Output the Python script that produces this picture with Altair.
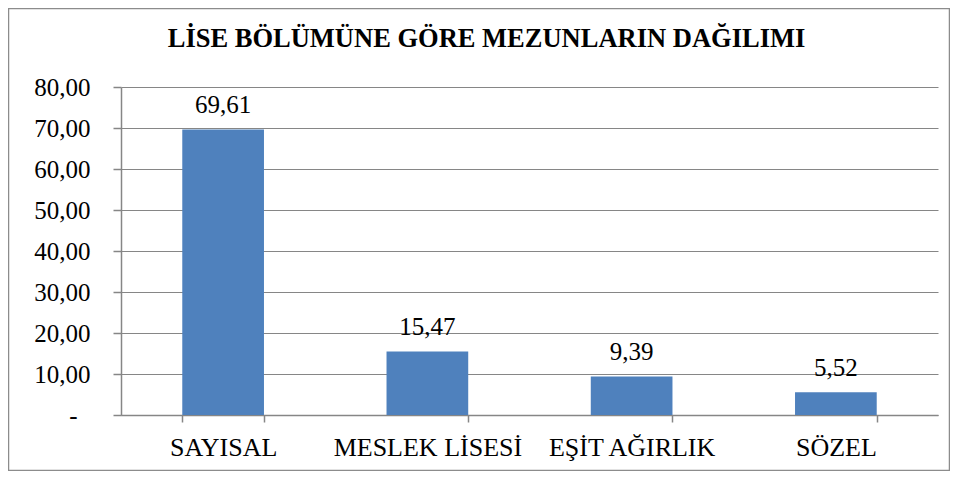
import altair as alt
import pandas as pd

categories = ["SAYISAL", "MESLEK LİSESİ", "EŞİT AĞIRLIK", "SÖZEL"]
values = [69.61, 15.47, 9.39, 5.52]
y_ticks = [0, 10, 20, 30, 40, 50, 60, 70, 80]
title_text = "LİSE BÖLÜMÜNE GÖRE MEZUNLARIN DAĞILIMI"

df = pd.DataFrame({"category": categories, "value": values})

FONT = "Liberation Serif"
GREY = "#868686"
BAR = "#4F81BD"

x_enc = alt.X(
    "category:N", sort=categories, title=None,
    scale=alt.Scale(paddingInner=0.6, paddingOuter=0.3),
    axis=alt.Axis(labelAngle=0, tickBand="extent", grid=False,
                  domainColor=GREY, domainWidth=1.5, tickColor=GREY, tickWidth=1.5,
                  tickSize=7, labelFont=FONT, labelFontSize=26, labelColor="black",
                  labelPadding=33, labelBaseline="alphabetic", labelLimit=400),
)
y_enc = alt.Y(
    "value:Q", title=None, scale=alt.Scale(domain=[0, 80], nice=False),
    axis=alt.Axis(values=y_ticks,
                  labelExpr="datum.value == 0 ? '-' : replace(format(datum.value, '.2f'), '.', ',')",
                  grid=True, gridColor=GREY, gridWidth=1,
                  domainColor=GREY, domainWidth=1.5, tickColor=GREY, tickWidth=1.5,
                  tickSize=8, labelFont=FONT, labelFontSize=25, labelColor="black",
                  labelPadding={"condition": {"test": "datum.value === 0", "value": 36}, "value": 23}),
)

base = alt.Chart(df)
bars = base.mark_bar(color=BAR).encode(x=x_enc, y=y_enc)
labels = base.transform_calculate(
    label="replace(format(datum.value, '.2f'), '.', ',')"
).mark_text(font=FONT, fontSize=25, baseline="alphabetic", dy=-16.5, color="black").encode(
    x=alt.X("category:N", sort=categories), y="value:Q", text="label:N"
)
title = alt.Chart(alt.Data(values=[{"t": title_text}])).mark_text(
    font=FONT, fontSize=26.5, fontWeight="bold", baseline="alphabetic", align="center", color="black"
).encode(x=alt.value(365.5), y=alt.value(-40.5), text="t:N")
border = alt.Chart(alt.Data(values=[{"a": 1}])).mark_rect(
    fill="transparent", stroke="#8c8c8c", strokeWidth=1.5
).encode(x=alt.value(-112.5), x2=alt.value(828.5), y=alt.value(-78.5), y2=alt.value(383.5))

chart = alt.layer(bars, labels, title, border).properties(
    width=817, height=328,
    autosize=alt.AutoSizeParams(type="none"),
    padding={"left": 113, "top": 79, "right": 12, "bottom": 56},
).configure_view(stroke="transparent")

chart.save("out.html", embed_options={"renderer": "svg", "actions": False})
